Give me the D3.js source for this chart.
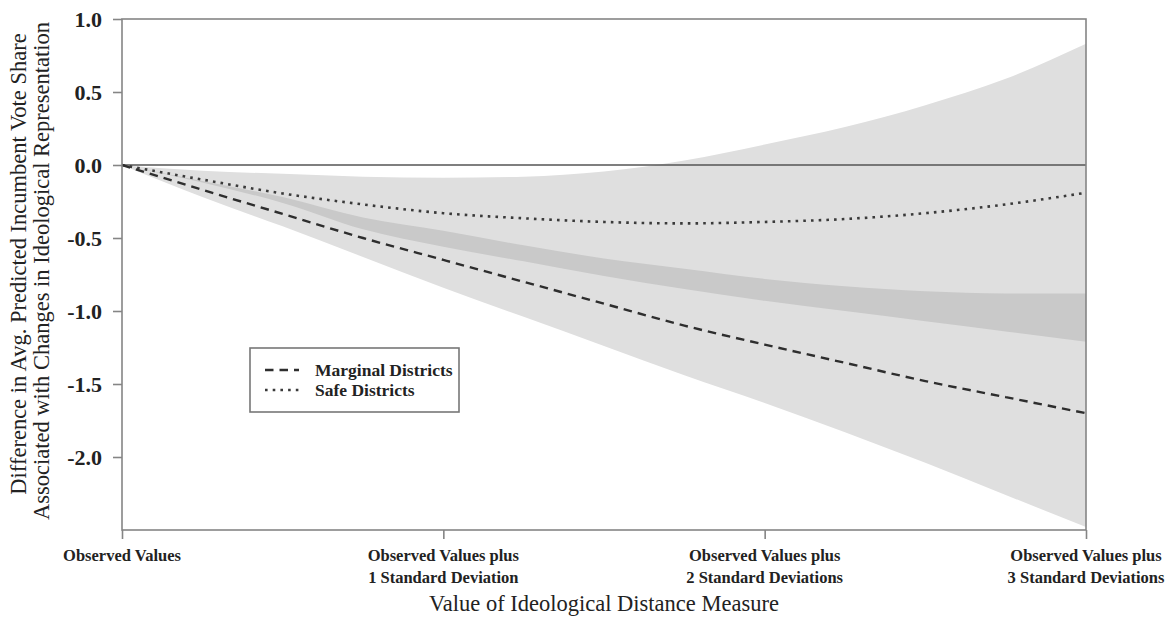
<!DOCTYPE html>
<html>
<head>
<meta charset="utf-8">
<script src="https://cdn.jsdelivr.net/npm/d3@7"></script>
<style>
  body { margin: 0; background: #fff; }
  svg text { font-family: "Liberation Serif", "Times New Roman", serif; fill: #222; }
</style>
</head>
<body>
<svg id="chart" width="1171" height="620"></svg>
<script>
// Ideological distance, in standard deviations above observed values
const steps = [0, 0.25, 0.5, 0.75, 1, 1.25, 1.5, 1.75, 2, 2.25, 2.5, 2.75, 3];

// Marginal districts: predicted difference and confidence bounds
const marginalMean  = [0, -0.17, -0.335, -0.50, -0.65, -0.80, -0.95, -1.10, -1.23, -1.355, -1.48, -1.59, -1.70];
const marginalUpper = [0, -0.11, -0.22, -0.36, -0.45, -0.55, -0.64, -0.71, -0.78, -0.83, -0.865, -0.88, -0.88];
const marginalLower = [0, -0.22, -0.42, -0.63, -0.84, -1.04, -1.24, -1.44, -1.63, -1.83, -2.04, -2.26, -2.48];

// Safe districts: predicted difference and confidence bounds
const safeMean  = [0, -0.10, -0.195, -0.27, -0.33, -0.365, -0.39, -0.40, -0.39, -0.37, -0.33, -0.27, -0.19];
const safeUpper = [0, -0.04, -0.06, -0.08, -0.087, -0.08, -0.045, 0.03, 0.14, 0.26, 0.41, 0.59, 0.83];
const safeLower = [0, -0.12, -0.26, -0.44, -0.56, -0.66, -0.76, -0.85, -0.93, -1.00, -1.07, -1.14, -1.21];

// Axis ticks and labels
const yTicks = [1.0, 0.5, 0.0, -0.5, -1.0, -1.5, -2.0];
const xTicks = [0, 1, 2, 3];
const xTickLabels = [
  ["Observed Values"],
  ["Observed Values plus", "1 Standard Deviation"],
  ["Observed Values plus", "2 Standard Deviations"],
  ["Observed Values plus", "3 Standard Deviations"]
];
const xTitle = "Value of Ideological Distance Measure";
const yTitleLines = [
  "Difference in Avg. Predicted Incumbent Vote Share",
  "Associated with Changes in Ideological Representation"
];
const legendLabels = ["Marginal Districts", "Safe Districts"];

const svg = d3.select("#chart");
const plotLeft = 122, plotRight = 1086, plotTop = 19, plotBottom = 530;

const x = d3.scaleLinear().domain([0, 3]).range([plotLeft, plotRight]);
const y = d3.scaleLinear().domain([-2.5, 1.0]).range([plotBottom, plotTop]);

const rows = (mean, lo, hi) => steps.map((s, i) => ({ s, m: mean[i], lo: lo[i], hi: hi[i] }));
const marginal = rows(marginalMean, marginalLower, marginalUpper);
const safe = rows(safeMean, safeLower, safeUpper);

const band = d3.area()
  .x(d => x(d.s))
  .y0(d => y(d.lo))
  .y1(d => y(d.hi))
  .curve(d3.curveMonotoneX);
const line = d3.line()
  .x(d => x(d.s))
  .y(d => y(d.m))
  .curve(d3.curveMonotoneX);

const defs = svg.append("defs");
defs.append("clipPath").attr("id", "plot-clip")
  .append("rect").attr("x", plotLeft).attr("y", plotTop)
  .attr("width", plotRight - plotLeft).attr("height", plotBottom - plotTop);
defs.append("clipPath").attr("id", "safe-clip")
  .append("path").attr("d", band(safe));

const plot = svg.append("g").attr("clip-path", "url(#plot-clip)");

// Confidence bands; their overlap is shaded darker
plot.append("path").attr("d", band(safe)).attr("fill", "#dfdfdf");
plot.append("path").attr("d", band(marginal)).attr("fill", "#dfdfdf");
plot.append("g").attr("clip-path", "url(#safe-clip)")
  .append("path").attr("d", band(marginal)).attr("fill", "#c9c9c9");

// Reference line at zero
plot.append("line")
  .attr("x1", plotLeft).attr("x2", plotRight)
  .attr("y1", y(0)).attr("y2", y(0))
  .attr("stroke", "#555").attr("stroke-width", 1.3);

// Predicted differences
plot.append("path").attr("d", line(safe))
  .attr("fill", "none").attr("stroke", "#3a3a3a")
  .attr("stroke-width", 2.6).attr("stroke-dasharray", "2.6,5.1");
plot.append("path").attr("d", line(marginal))
  .attr("fill", "none").attr("stroke", "#2e2e2e")
  .attr("stroke-width", 2.4).attr("stroke-dasharray", "8.5,6");

// Frame
svg.append("rect")
  .attr("x", plotLeft).attr("y", plotTop)
  .attr("width", plotRight - plotLeft).attr("height", plotBottom - plotTop)
  .attr("fill", "none").attr("stroke", "#858585").attr("stroke-width", 1.6);

// Y axis
const yAxis = svg.append("g")
  .attr("transform", `translate(${plotLeft},0)`)
  .call(d3.axisLeft(y).tickValues(yTicks).tickSize(9).tickPadding(11)
    .tickFormat(d => d.toFixed(1)));
yAxis.select(".domain").remove();
yAxis.selectAll("line").attr("stroke", "#858585").attr("stroke-width", 1.6);
yAxis.selectAll("text")
  .style("font-family", "'Liberation Serif', serif")
  .style("font-size", "22px").style("font-weight", "bold").attr("fill", "#222");

// X axis
const xAxis = svg.append("g")
  .attr("transform", `translate(0,${plotBottom})`)
  .call(d3.axisBottom(x).tickValues(xTicks).tickSize(9).tickFormat(""));
xAxis.select(".domain").remove();
xAxis.selectAll("line").attr("stroke", "#858585").attr("stroke-width", 1.6);

const xLab = svg.append("g");
xTicks.forEach((t, i) => {
  const txt = xLab.append("text")
    .attr("text-anchor", "middle")
    .attr("font-size", 16.5).attr("font-weight", "bold");
  xTickLabels[i].forEach((ln, j) => {
    txt.append("tspan").attr("x", x(t)).attr("y", 561 + j * 22).text(ln);
  });
});

// Axis titles
svg.append("text")
  .attr("x", (plotLeft + plotRight) / 2).attr("y", 611)
  .attr("text-anchor", "middle").attr("font-size", 22.5)
  .text(xTitle);

yTitleLines.forEach((ln, j) => {
  svg.append("text")
    .attr("transform", `translate(${26 + j * 23},${264 + j * 7}) rotate(-90)`)
    .attr("text-anchor", "middle").attr("font-size", 22.5)
    .text(ln);
});

// Legend
const lg = svg.append("g");
lg.append("rect")
  .attr("x", 250).attr("y", 348).attr("width", 209).attr("height", 64)
  .attr("fill", "#fff").attr("stroke", "#777").attr("stroke-width", 1.6);
const legendStyles = [
  { dash: "8.5,6", width: 2.4, color: "#2e2e2e" },
  { dash: "2.6,5.1", width: 2.6, color: "#3a3a3a" }
];
legendLabels.forEach((lab, i) => {
  const yy = 370 + i * 20;
  lg.append("line")
    .attr("x1", 265).attr("x2", 299).attr("y1", yy).attr("y2", yy)
    .attr("stroke", legendStyles[i].color)
    .attr("stroke-width", legendStyles[i].width)
    .attr("stroke-dasharray", legendStyles[i].dash);
  lg.append("text")
    .attr("x", 315).attr("y", yy + 6)
    .attr("font-size", 17.5).attr("font-weight", "bold")
    .text(lab);
});
</script>
</body>
</html>
